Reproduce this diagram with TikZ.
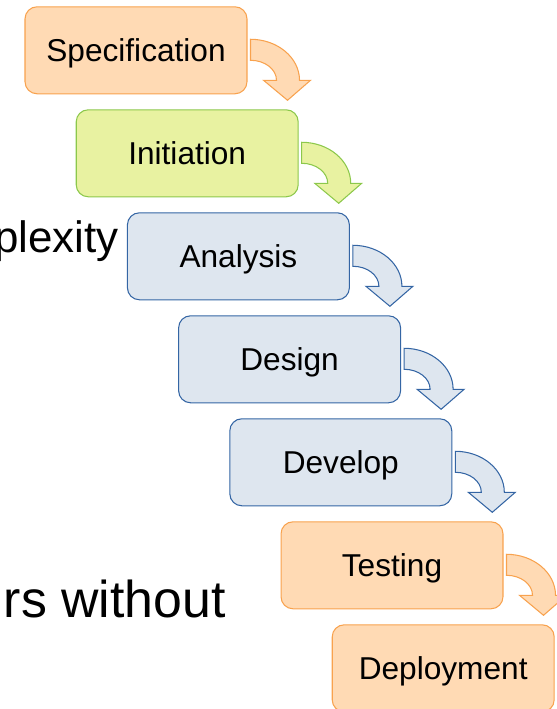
\documentclass[tikz,border=0pt]{standalone}
\usepackage{fontspec}
\setmainfont{Liberation Sans}
\usetikzlibrary{calc}

\definecolor{orfill}{HTML}{FFDAB4}
\definecolor{orline}{HTML}{F8A24E}
\definecolor{grfill}{HTML}{E8F2A1}
\definecolor{grline}{HTML}{8CC84B}
\definecolor{blfill}{HTML}{DEE6EF}
\definecolor{blline}{HTML}{3465A4}

\tikzset{
  stage/.style={draw, line width=0.6pt, rounded corners=0.24cm,
    minimum width=4.44cm, minimum height=1.74cm, inner sep=0pt,
    text height=13pt, text depth=0pt,
    font=\fontsize{18}{22}\selectfont},
  orstage/.style={stage, fill=orfill, draw=orline},
  grstage/.style={stage, fill=grfill, draw=grline},
  blstage/.style={stage, fill=blfill, draw=blline},
  bendarrow/.style={line width=0.6pt, line join=miter}
}

\begin{document}
\begin{tikzpicture}[x=0.02cm, y=-0.02cm]
    \useasboundingbox (0,0) rectangle (556,709);
    % left over words of the slide
    \node[anchor=base east, inner sep=0pt, font=\fontsize{25}{30}\selectfont] (cplx) at (119,253) {plexity};
    \node[anchor=base east, inner sep=0pt, font=\fontsize{29.5}{35}\selectfont] (wout) at (226,617) {rs without};
    % the stages
    \foreach \n/\t/\s [count=\i from 0] in {spec/Specification/or, init/Initiation/gr,
        anal/Analysis/bl, desg/Design/bl, devl/Develop/bl, test/Testing/or, depl/Deployment/or} {
      \node[\s stage] (\n) at ({136+51.2*\i},{50.3+103*\i}) {\t};
    }
    % bent arrows from each stage down to the next one
    \foreach \n/\s in {spec/or, init/gr, anal/bl, desg/bl, devl/bl, test/or} {
      \draw[bendarrow, fill=\s fill, draw=\s line, shift={(\n.north east)}]
        (3,33) .. controls (30,33) and (52,51.4) .. (52,74) -- (63,74) -- (40,94)
        -- (16,74) -- (29,74) .. controls (29,63) and (17.4,54) .. (3,54) -- cycle;
    }
\end{tikzpicture}
\end{document}
